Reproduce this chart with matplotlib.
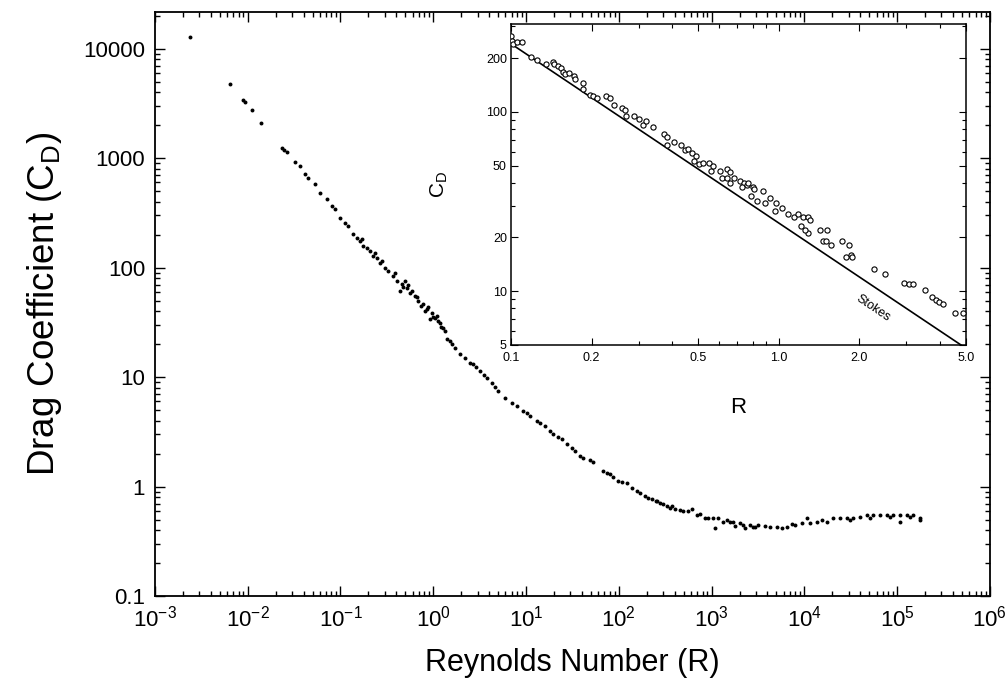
import matplotlib
matplotlib.use("Agg")
import matplotlib.pyplot as plt
from matplotlib.ticker import FixedLocator, FixedFormatter, LogLocator, NullFormatter

plt.rcParams['font.family'] = ['Liberation Sans', 'DejaVu Sans']
plt.rcParams['mathtext.fontset'] = 'custom'
plt.rcParams['mathtext.rm'] = 'Liberation Sans'
plt.rcParams['mathtext.it'] = 'Liberation Sans'
plt.rcParams['mathtext.default'] = 'regular'
plt.rcParams['axes.unicode_minus'] = False

# donnees principales
reynolds = [
    0.0024, 0.00643, 0.00887, 0.00933, 0.0111, 0.0139, 0.0234, 0.0246, 0.0264, 0.0323,
    0.0365, 0.0413, 0.0446, 0.0530, 0.0600, 0.0713, 0.0807, 0.0871, 0.0987, 0.111,
    0.120, 0.136, 0.150, 0.162, 0.170, 0.174, 0.192, 0.207, 0.223, 0.235,
    0.246, 0.266, 0.279, 0.300, 0.324, 0.367, 0.385, 0.406, 0.436, 0.459,
    0.470, 0.494, 0.520, 0.532, 0.560, 0.587, 0.634, 0.665, 0.683, 0.734,
    0.773, 0.811, 0.853, 0.875, 0.918, 0.966, 0.991, 1.04, 1.09, 1.12,
    1.18, 1.21, 1.27, 1.33, 1.40, 1.59, 1.71, 1.94, 2.48, 2.67,
    3.18, 3.78, 4.28, 4.97, 5.91, 7.03, 7.96, 9.24, 11.0, 13.1,
    14.1, 16.0, 18.0, 19.5, 24.3, 31.2, 33.6, 40.9, 52.5, 67.3,
    80.0, 97.5, 122, 138, 168, 191, 227, 251, 277, 329,
    372, 401, 490, 555, 612, 693, 746, 845, 1030, 1080,
    1320, 1460, 1570, 1780, 2010, 2280, 2580, 2780, 2920, 3150,
    4240, 5050, 6460, 7880, 9380, 10600, 11400, 13600, 15400, 17400,
    20200, 24100, 28600, 33200, 39500, 47000, 54600, 64900, 77300, 89700,
    107000, 107000, 127000, 147000, 175000, 175000,
    # points supplementaires
    1.51, 2.19, 2.88, 3.51, 4.61, 10.2, 22.0, 27.5, 38.0, 48.7,
    74.3, 86.1, 108, 156, 205, 257, 298, 355, 454, 910,
    1170, 1690, 2170, 3740, 5700, 7310, 30800, 50700, 83200, 137000,
]
drag = [
    12800, 4750, 3400, 3260, 2750, 2095, 1240, 1188, 1140, 923,
    849, 718, 660, 582, 481, 424, 366, 344, 285, 256,
    241, 203, 187, 176, 183, 158, 152, 142, 128, 137,
    123, 111, 115, 99.6, 93.5, 84.2, 89.7, 75.8, 61.4, 71.2,
    66.8, 75.8, 65.4, 69.7, 58.9, 61.4, 55.3, 54.2, 49.8, 44.8,
    46.7, 40.4, 42.1, 43.9, 34.1, 38.7, 35.6, 34.8, 36.3, 32.7,
    31.4, 28.8, 28.2, 26.5, 22.4, 20.2, 18.5, 16.4, 13.5, 13.3,
    11.4, 9.88, 8.89, 7.51, 6.49, 5.84, 5.48, 4.94, 4.44, 4.00,
    3.84, 3.60, 3.24, 3.05, 2.74, 2.27, 2.13, 1.84, 1.66, 1.40,
    1.31, 1.13, 1.07, 0.98, 0.882, 0.828, 0.777, 0.745, 0.715, 0.671,
    0.671, 0.630, 0.604, 0.604, 0.630, 0.544, 0.567, 0.521, 0.521, 0.414,
    0.470, 0.500, 0.470, 0.432, 0.460, 0.414, 0.441, 0.423, 0.423, 0.441,
    0.423, 0.423, 0.423, 0.441, 0.460, 0.521, 0.460, 0.470, 0.490, 0.470,
    0.511, 0.511, 0.521, 0.521, 0.532, 0.544, 0.544, 0.544, 0.555, 0.555,
    0.544, 0.470, 0.555, 0.555, 0.521, 0.490,
    # points supplementaires
    21.5, 15.0, 12.4, 10.5, 8.18, 4.73, 2.86, 2.47, 1.92, 1.73,
    1.34, 1.21, 1.09, 0.919, 0.794, 0.745, 0.700, 0.643, 0.617, 0.511,
    0.511, 0.470, 0.441, 0.432, 0.414, 0.451, 0.500, 0.521, 0.532, 0.532,
]

# donnees de l'encart
r_encart = [
    0.100, 0.101, 0.102, 0.105, 0.110, 0.119, 0.125, 0.135, 0.143, 0.145,
    0.150, 0.154, 0.157, 0.159, 0.164, 0.172, 0.174, 0.185, 0.185, 0.197,
    0.203, 0.209, 0.226, 0.235, 0.243, 0.259, 0.266, 0.270, 0.287, 0.301,
    0.310, 0.320, 0.340, 0.372, 0.384, 0.384, 0.408, 0.433, 0.447, 0.460,
    0.475, 0.490, 0.483, 0.505, 0.520, 0.550, 0.560, 0.570, 0.605, 0.615,
    0.643, 0.655, 0.643, 0.660, 0.680, 0.715, 0.740, 0.728, 0.760, 0.770,
    0.800, 0.810, 0.790, 0.830, 0.870, 0.890, 0.930, 0.980, 0.970, 1.03,
    1.08, 1.14, 1.18, 1.23, 1.29, 1.31, 1.21, 1.29, 1.25, 1.43,
    1.52, 1.46, 1.50, 1.57, 1.72, 1.83, 1.87, 1.78, 1.88, 2.27,
    2.50, 2.95, 3.07, 3.17, 3.52, 3.74, 3.86, 3.98, 4.10, 4.57, 4.90,
]
cd_encart = [
    265, 250, 240, 245, 245, 202, 196, 186, 189, 184,
    180, 176, 168, 162, 165, 158, 152, 145, 134, 125,
    122, 120, 122, 120, 110, 105, 103, 95, 95, 91,
    85, 89, 82, 75, 72, 65, 68, 65, 61, 62,
    59, 57, 53, 51, 52, 52, 47, 50, 47, 43,
    48, 46, 43, 40, 43, 41, 40, 38, 39, 40,
    38, 37, 34, 32, 36, 31, 33, 31, 28, 29,
    27, 26, 27, 26, 26, 25, 23, 21, 22, 22,
    22, 19, 19, 18, 19, 18, 16, 15.5, 15.5, 13.3,
    12.5, 11.1, 10.9, 10.9, 10.1, 9.3, 8.9, 8.7, 8.5, 7.5, 7.5,
]
stokes_r = [0.1, 5.0]
stokes_cd = [240, 4.8]

main_yticks = [0.1, 1, 10, 100, 1000, 10000]
main_ylabels = ['0.1', '1', '10', '100', '1000', '10000']
inset_xticks = [0.1, 0.2, 0.5, 1.0, 2.0, 5.0]
inset_xlabels = ['0.1', '0.2', '0.5', '1.0', '2.0', '5.0']
inset_yticks = [5, 10, 20, 50, 100, 200]
inset_ylabels = ['5', '10', '20', '50', '100', '200']

fig = plt.figure(figsize=(10.06, 6.95), dpi=100)

# graphique principal
ax = fig.add_axes([0.154, 0.1424, 0.830, 0.840])
ax.scatter(reynolds, drag, s=8, c='black', linewidths=0)
ax.set_xscale('log')
ax.set_yscale('log')
ax.set_xlim(1e-3, 1e6)
ax.set_ylim(0.1, 21500)
ax.xaxis.set_major_locator(LogLocator(base=10, numticks=20))
ax.xaxis.set_minor_locator(LogLocator(base=10, subs=range(2, 10), numticks=100))
ax.xaxis.set_minor_formatter(NullFormatter())
ax.yaxis.set_major_locator(FixedLocator(main_yticks))
ax.yaxis.set_major_formatter(FixedFormatter(main_ylabels))
ax.yaxis.set_minor_locator(LogLocator(base=10, subs=range(2, 10), numticks=100))
ax.yaxis.set_minor_formatter(NullFormatter())
ax.tick_params(which='both', direction='in', top=True, right=True, width=1.0)
ax.tick_params(which='major', length=7, labelsize=16, pad=7)
ax.tick_params(which='minor', length=3.5)
for s in ax.spines.values():
    s.set_linewidth(1.3)
ax.set_xlabel("Reynolds Number (R)", fontsize=22, labelpad=12)
ax.set_ylabel("Drag Coefficient (C$_D$)", fontsize=26.5, labelpad=14)

# encart
axi = fig.add_axes([0.508, 0.5036, 0.452, 0.462])
axi.plot(stokes_r, stokes_cd, color='black', linewidth=1.2)
axi.scatter(r_encart, cd_encart, s=14, facecolors='white', edgecolors='black', linewidths=0.8, zorder=3)
axi.set_xscale('log')
axi.set_yscale('log')
axi.set_xlim(0.1, 5.0)
axi.set_ylim(5, 310)
axi.xaxis.set_major_locator(FixedLocator(inset_xticks))
axi.xaxis.set_major_formatter(FixedFormatter(inset_xlabels))
axi.xaxis.set_minor_locator(LogLocator(base=10, subs=range(2, 10), numticks=100))
axi.xaxis.set_minor_formatter(NullFormatter())
axi.yaxis.set_major_locator(FixedLocator(inset_yticks))
axi.yaxis.set_major_formatter(FixedFormatter(inset_ylabels))
axi.yaxis.set_minor_locator(LogLocator(base=10, subs=range(2, 10), numticks=100))
axi.yaxis.set_minor_formatter(NullFormatter())
axi.tick_params(which='both', direction='in', top=True, right=True, width=0.8)
axi.tick_params(which='major', length=5, labelsize=9, pad=3)
axi.tick_params(axis='x', which='major', pad=5)
axi.tick_params(which='minor', length=3)
for s in axi.spines.values():
    s.set_linewidth(1.1)
axi.set_xlabel("R", fontsize=16, labelpad=24)
axi.set_ylabel("C$_D$", fontsize=15, labelpad=26)
axi.text(2.25, 8.0, "Stokes", fontsize=9, rotation=-34, ha='center', va='center')

plt.savefig("out.png", dpi=100)
